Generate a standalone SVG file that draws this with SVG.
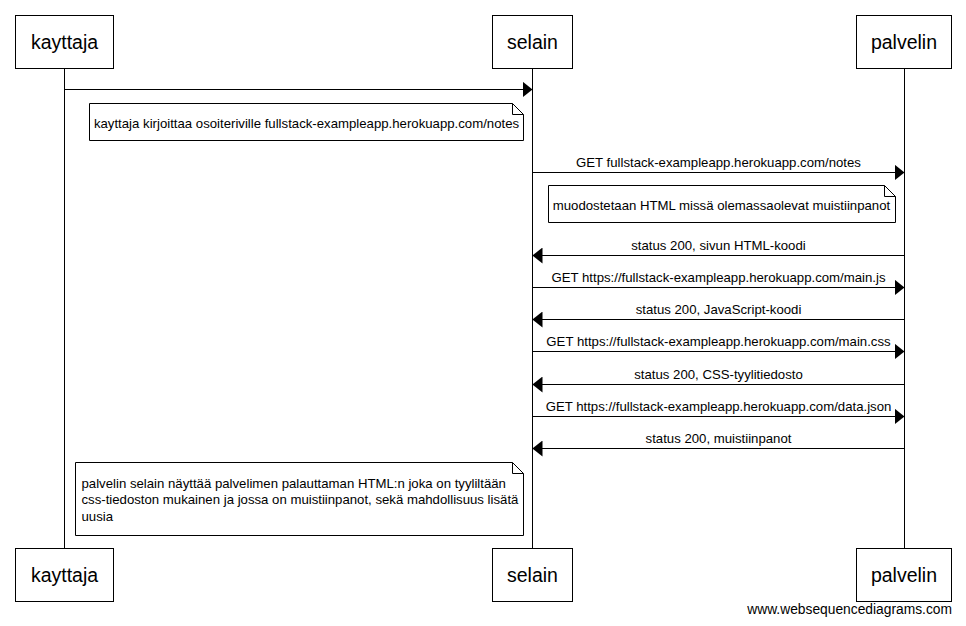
<svg xmlns="http://www.w3.org/2000/svg" width="966" height="626" viewBox="0 0 966 626">
<defs>
<style>
.box{fill:#fff;stroke:#000;stroke-width:1}
.life{stroke:#000;stroke-width:1}
.msg{stroke:#000;stroke-width:1;fill:none;marker-end:url(#ah)}
.note{fill:#fff;stroke:#000;stroke-width:1}
.fold{fill:none;stroke:#000;stroke-width:1}
.pt{font-family:"Liberation Sans",Arial,sans-serif;font-size:19.5px;text-anchor:middle;fill:#000}
.lb{font-family:"Liberation Sans",Arial,sans-serif;font-size:13.2px;text-anchor:middle;fill:#000}
.nt{font-family:"Liberation Sans",Arial,sans-serif;font-size:13.2px;fill:#000}
</style>
<marker id="ah" markerUnits="userSpaceOnUse" markerWidth="10" markerHeight="16" refX="10" refY="8" orient="auto" viewBox="0 0 10 16">
<path d="M0,0 L10,8 L0,16 Z" fill="#000"/>
</marker>
</defs>
<rect width="966" height="626" fill="#fff"/>
<g id="lifelines">
<line class="life" x1="64.5" y1="68.5" x2="64.5" y2="548.5"/>
<line class="life" x1="532.5" y1="68.5" x2="532.5" y2="548.5"/>
<line class="life" x1="904.5" y1="68.5" x2="904.5" y2="548.5"/>
</g>
<g id="kayttaja">
<rect class="box" x="15.5" y="15.5" width="98" height="53"/>
<text class="pt" x="64.5" y="49">kayttaja</text>
<rect class="box" x="15.5" y="548.5" width="98" height="53"/>
<text class="pt" x="64.5" y="582">kayttaja</text>
</g>
<g id="selain">
<rect class="box" x="492.5" y="15.5" width="80" height="53"/>
<text class="pt" x="532.5" y="49">selain</text>
<rect class="box" x="492.5" y="548.5" width="80" height="53"/>
<text class="pt" x="532.5" y="582">selain</text>
</g>
<g id="palvelin">
<rect class="box" x="856.5" y="15.5" width="95" height="53"/>
<text class="pt" x="904" y="49">palvelin</text>
<rect class="box" x="856.5" y="548.5" width="95" height="53"/>
<text class="pt" x="904" y="582">palvelin</text>
</g>
<g id="connectors">
<line class="msg" x1="64.5" y1="89.5" x2="532.5" y2="89.5"/>
<line class="msg" x1="532.5" y1="172.5" x2="904.5" y2="172.5"/>
<text class="lb" x="718.5" y="167">GET fullstack-exampleapp.herokuapp.com/notes</text>
<line class="msg" x1="904.5" y1="255.5" x2="532.5" y2="255.5"/>
<text class="lb" x="718.5" y="250">status 200, sivun HTML-koodi</text>
<line class="msg" x1="532.5" y1="287.5" x2="904.5" y2="287.5"/>
<text class="lb" x="718.5" y="282">GET https://fullstack-exampleapp.herokuapp.com/main.js</text>
<line class="msg" x1="904.5" y1="319.5" x2="532.5" y2="319.5"/>
<text class="lb" x="718.5" y="314">status 200, JavaScript-koodi</text>
<line class="msg" x1="532.5" y1="351.5" x2="904.5" y2="351.5"/>
<text class="lb" x="718.5" y="346">GET https://fullstack-exampleapp.herokuapp.com/main.css</text>
<line class="msg" x1="904.5" y1="384.5" x2="532.5" y2="384.5"/>
<text class="lb" x="718.5" y="379">status 200, CSS-tyylitiedosto</text>
<line class="msg" x1="532.5" y1="416.5" x2="904.5" y2="416.5"/>
<text class="lb" x="718.5" y="411">GET https://fullstack-exampleapp.herokuapp.com/data.json</text>
<line class="msg" x1="904.5" y1="448.5" x2="532.5" y2="448.5"/>
<text class="lb" x="718.5" y="443">status 200, muistiinpanot</text>
</g>
<g id="note1">
<path class="note" d="M89.5,103.5 H512.5 L523.5,114.5 V140.5 H89.5 Z"/>
<path class="fold" d="M512.5,103.5 V114.5 H523.5"/>
<text class="lb" x="306.5" y="127.5">kayttaja kirjoittaa osoiteriville fullstack-exampleapp.herokuapp.com/notes</text>
</g>
<g id="note2">
<path class="note" d="M548.5,185.5 H884.5 L895.5,196.5 V222.5 H548.5 Z"/>
<path class="fold" d="M884.5,185.5 V196.5 H895.5"/>
<text class="lb" x="721.5" y="209.5">muodostetaan HTML missä olemassaolevat muistiinpanot</text>
</g>
<g id="note3">
<path class="note" d="M75.5,462.5 H512.5 L523.5,473.5 V535.5 H75.5 Z"/>
<path class="fold" d="M512.5,462.5 V473.5 H523.5"/>
<text class="nt" x="81.5" y="487.5">palvelin selain näyttää palvelimen palauttaman HTML:n joka on tyyliltään</text>
<text class="nt" x="81.5" y="504">css-tiedoston mukainen ja jossa on muistiinpanot, sekä mahdollisuus lisätä</text>
<text class="nt" x="81.5" y="520.5">uusia</text>
</g>
<text x="952" y="614" font-family="Liberation Sans, Arial, sans-serif" font-size="13.8" text-anchor="end" fill="#000">www.websequencediagrams.com</text>
</svg>
